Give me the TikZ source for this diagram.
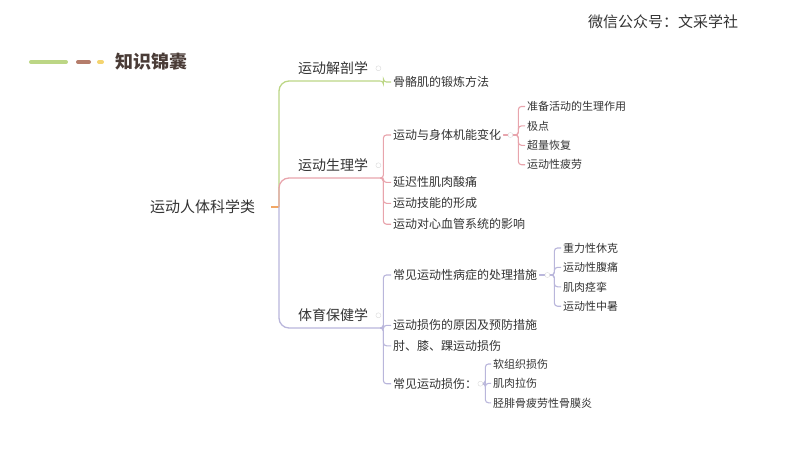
\documentclass[tikz,border=0pt]{standalone}
\usepackage{fontspec}
\newfontfamily\cjk{Noto Sans CJK SC}
\usetikzlibrary{positioning}
\definecolor{textgray}{HTML}{333333}
\definecolor{titlebrown}{HTML}{4A3C37}
\definecolor{leafgreen}{HTML}{BCD685}
\definecolor{rosepink}{HTML}{E8A4AC}
\definecolor{lavender}{HTML}{B9B6DB}
\definecolor{huborange}{HTML}{F2A765}
\definecolor{dashbrown}{HTML}{B57D6B}
\definecolor{dotyellow}{HTML}{F4D470}
\tikzstyle{root} = [font=\cjk\fontsize{15}{18}\selectfont, text=textgray, inner xsep=16pt]
\tikzstyle{branch} = [anchor=south west, text width=74pt, inner xsep=8pt, inner ysep=6pt, font=\cjk\fontsize{14}{16}\selectfont, text=textgray]
\tikzstyle{sub} = [anchor=west, minimum height=20.5pt, inner xsep=2pt, inner ysep=0pt, font=\cjk\fontsize{12}{14}\selectfont, text=textgray]
\tikzstyle{leaf} = [anchor=west, minimum height=19pt, inner xsep=2pt, inner ysep=0pt, font=\cjk\fontsize{11}{13}\selectfont, text=textgray]
\tikzstyle{knob} = [circle, draw=black!15, fill=white, inner sep=0pt, minimum size=5pt]
\tikzstyle{greenline} = [draw=leafgreen, line width=1.3pt, rounded corners=10pt]
\tikzstyle{pinkline} = [draw=rosepink, line width=1.3pt, rounded corners=10pt]
\tikzstyle{lavline} = [draw=lavender, line width=1.3pt, rounded corners=10pt]
\tikzstyle{bracket} = [line width=1.1pt, rounded corners=3pt]

\begin{document}
\begin{tikzpicture}[x=1pt, y=-1pt]
    \useasboundingbox (0,0) rectangle (800,450);

    % Header and legend
    \node (wechat) [anchor=west, inner sep=0pt, text=textgray, font=\cjk\fontsize{15}{18}\selectfont] at (588,22) {微信公众号：文采学社};
    \draw [leafgreen, line width=4pt, line cap=round] (31,62) -- (66,62);
    \draw [dashbrown, line width=4pt, line cap=round] (78,62) -- (89,62);
    \draw [dotyellow, line width=4pt, line cap=round] (99,62) -- (102,62);
    \node (title) [anchor=west, inner sep=0pt, text=titlebrown, font=\cjk\bfseries\fontsize{18}{20}\selectfont] at (115,62) {知识锦囊};

    % Nodes
    \node (root) [root] at (202.5,207) {运动人体科学类};
    \coordinate (hub) at (279,207);
    \node (ana) [branch] at (290,81) {运动解剖学};
    \node (phy) [branch] at (290,178) {运动生理学};
    \node (hea) [branch] at (290,328) {体育保健学};

    \node (guge) [sub] at (391,82) {骨骼肌的锻炼方法};

    \node (bianhua) [sub] at (391,135) {运动与身体机能变化};
    \node (suantong) [sub, below=26.5pt of bianhua.south west, anchor=north west] {延迟性肌肉酸痛};
    \node (jineng) [sub, below=0pt of suantong.south west, anchor=north west] {运动技能的形成};
    \node (xinxue) [sub, below=0pt of jineng.south west, anchor=north west] {运动对心血管系统的影响};

    \node (zhunbei) [leaf] at (525,106.5) {准备活动的生理作用};
    \node (jidian) [leaf, below=0pt of zhunbei.south west, anchor=north west] {极点};
    \node (chaoliang) [leaf, below=0pt of jidian.south west, anchor=north west] {超量恢复};
    \node (pilao) [leaf, below=0pt of chaoliang.south west, anchor=north west] {运动性疲劳};

    \node (chuli) [sub] at (391,275) {常见运动性病症的处理措施};
    \node (yuanyin) [sub, below=29.5pt of chuli.south west, anchor=north west] {运动损伤的原因及预防措施};
    \node (zhouxi) [sub, below=-0.5pt of yuanyin.south west, anchor=north west] {肘、膝、踝运动损伤};
    \node (sunshang) [sub, below=17pt of zhouxi.south west, anchor=north west] {常见运动损伤：};

    \node (xiuke) [leaf] at (561,248) {重力性休克};
    \node (futong) [leaf, below=0pt of xiuke.south west, anchor=north west] {运动性腹痛};
    \node (jingluan) [leaf, below=0pt of futong.south west, anchor=north west] {肌肉痉挛};
    \node (zhongshu) [leaf, below=0pt of jingluan.south west, anchor=north west] {运动性中暑};

    \node (ruanzu) [leaf] at (491,364) {软组织损伤};
    \node (lashang) [leaf, below=0pt of ruanzu.south west, anchor=north west] {肌肉拉伤};
    \node (mowai) [leaf, below=0pt of lashang.south west, anchor=north west] {胫腓骨疲劳性骨膜炎};

    % Branches from root
    \draw [huborange, line width=1.5pt] (root.east) -- (hub);
    \draw [greenline] (hub) |- (ana.south east);
    \draw [pinkline] (hub) |- (phy.south east);
    \draw [lavline] (hub) |- (hea.south east);

    % Sub branches
    \draw [bracket, leafgreen] (ana.south east) -- ++(3,0) |- (guge.west);
    \foreach \kid in {bianhua, suantong, jineng, xinxue}
        \draw [bracket, rosepink] (phy.south east) -- ++(3,0) |- (\kid.west);
    \foreach \kid in {zhunbei, jidian, chaoliang, pilao}
        \draw [bracket, rosepink] (bianhua.east) -- ++(15,0) |- (\kid.west);
    \foreach \kid in {chuli, yuanyin, zhouxi, sunshang}
        \draw [bracket, lavender] (hea.south east) -- ++(3,0) |- (\kid.west);
    \foreach \kid in {xiuke, futong, jingluan, zhongshu}
        \draw [bracket, lavender] (chuli.east) -- ++(15,0) |- (\kid.west);
    \foreach \kid in {ruanzu, lashang, mowai}
        \draw [bracket, lavender] (sunshang.east) -- ++(6,0) |- (\kid.west);

    % Collapse knobs
    \node (k1) [knob] at ([xshift=-2pt]ana.east) {};
    \node (k2) [knob] at ([xshift=-2pt]phy.east) {};
    \node (k3) [knob] at ([xshift=-2pt]hea.east) {};
    \node (k4) [knob] at ([xshift=7pt]bianhua.east) {};
    \node (k5) [knob] at ([xshift=8pt]chuli.east) {};
    \node (k6) [knob] at ([xshift=1pt]sunshang.east) {};

\end{tikzpicture}
\end{document}
